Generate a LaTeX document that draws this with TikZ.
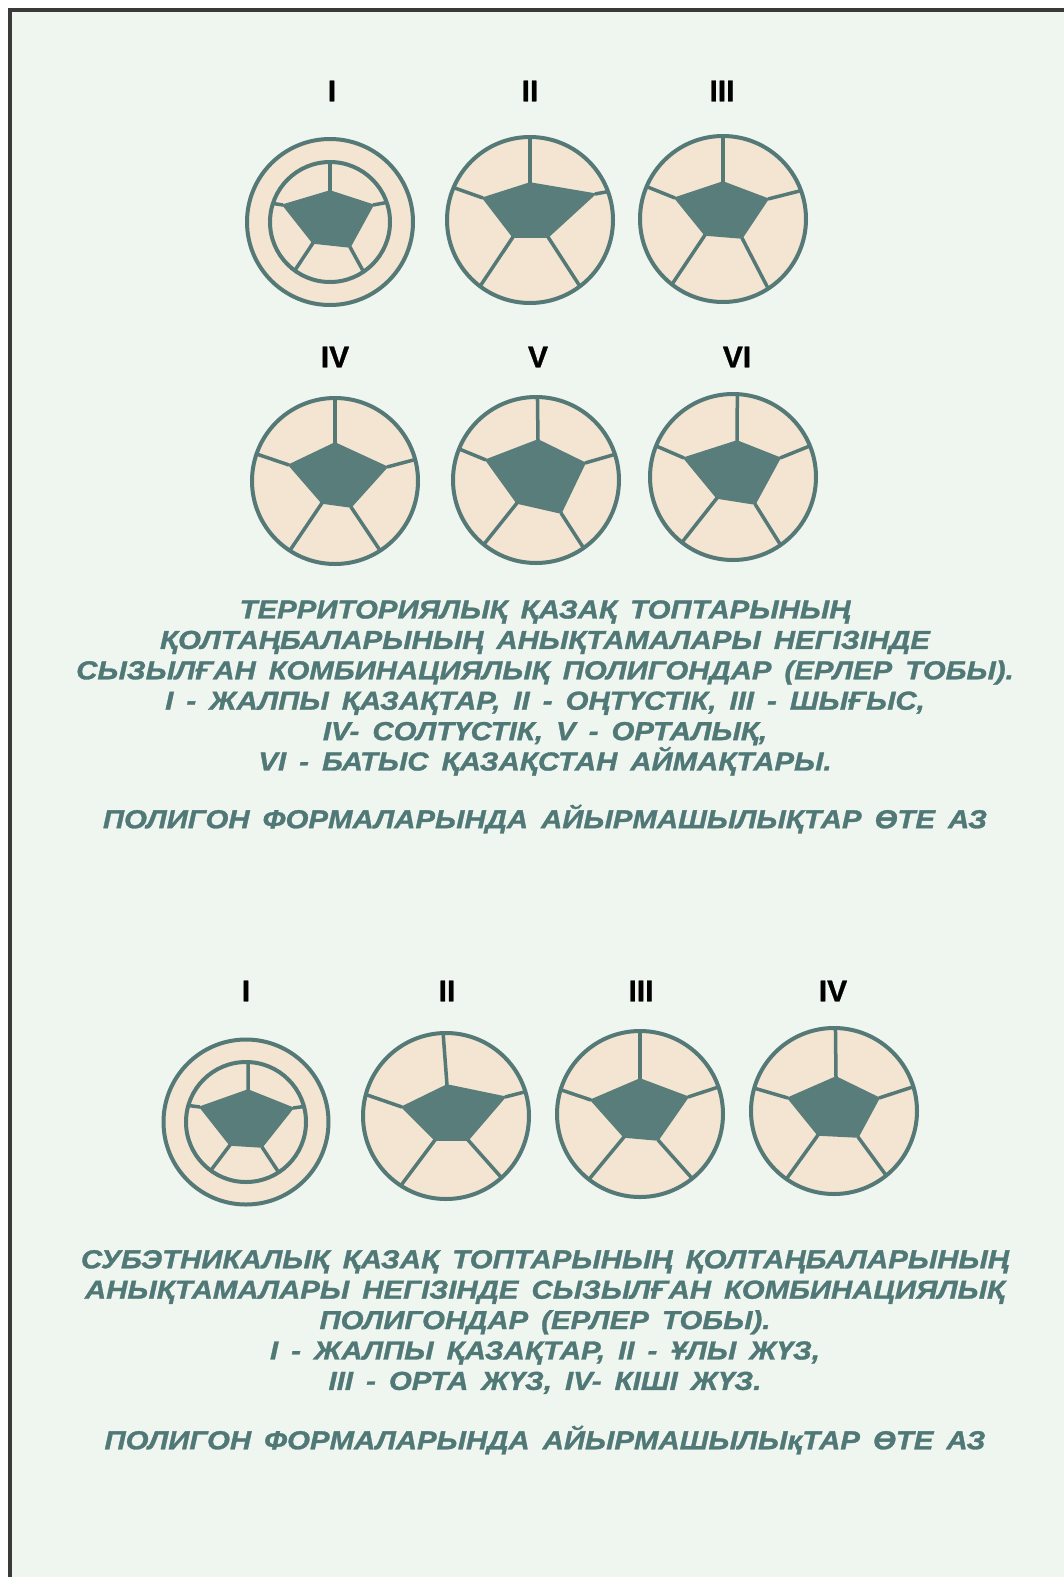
\documentclass[tikz,border=0pt]{standalone}
\usepackage{fontspec}
\setmainfont{Liberation Sans}
\newfontfamily\capfont[FakeStretch=1.13,WordSpace=1.6,FakeBold=1.2]{Liberation Sans}
\newfontfamily\numfont[FakeBold=1]{Liberation Sans}
\definecolor{bgmint}{HTML}{EFF5EF}
\definecolor{discbeige}{HTML}{F3E5D1}
\definecolor{tealline}{HTML}{547977}
\definecolor{tealfill}{HTML}{587D7B}
\definecolor{tealtext}{HTML}{4F7876}
\definecolor{frameline}{HTML}{3A3A3A}
\tikzset{
  discnode/.style={circle,draw=tealline,fill=discbeige,line width=4,inner sep=0},
  polyfill/.style={fill=tealfill,draw=tealfill,line width=1.5,line join=round},
  spoke/.style={draw=tealline,line width=3.5},
  numlabel/.style={font=\numfont\bfseries\fontsize{30}{30}\selectfont,text=black,inner sep=0},
  captext/.style={font=\capfont\bfseries\itshape\fontsize{26}{30.4}\selectfont,text=tealtext,align=center,inner sep=0}
}
% #1 name, #2 center, #3 rim radius, #4..#8 vertex x/y/spoke angle
\newcommand\kzdisc[8]{%
  \begin{scope}[shift={#2}]
    \node[discnode,minimum size=2*#3] (#1) at (0,0) {};
    \foreach \vx/\vy/\va [count=\vi] in {#4,#5,#6,#7,#8} {
      \coordinate (#1v\vi) at (\vx,\vy);
      \coordinate (#1e\vi) at (-\va:#3);
    }
    \fill[polyfill] (#1v1)--(#1v2)--(#1v3)--(#1v4)--(#1v5)--cycle;
    \foreach \vi in {1,...,5} \draw[spoke] (#1v\vi) -- (#1e\vi);
  \end{scope}}
\begin{document}
\begin{tikzpicture}[x=1pt,y=-1pt]
\useasboundingbox (0,0) rectangle (1064,1577);
\fill[white] (0,0) rectangle (1064,1577);
\fill[bgmint] (10,10) rectangle (1064,1577);
\draw[frameline,line width=4] (10,1577) -- (10,10) -- (1064,10);

% top row labels
\node[numlabel] (lt1) at (332,91) {I};
\node[numlabel] (lt2) at (530,91) {II};
\node[numlabel] (lt3) at (722,91) {III};
% top row discs
\node[discnode,minimum size=166] (t1out) at (330,222) {};
\kzdisc{t1}{(330,222)}{60}{0/-31/90}{43/-17/19}{20/25/-56}{-17/21/-126}{-47/-17/162}
\kzdisc{t2}{(530,220)}{83}{0/-37/90}{65/-26/20}{18/17/-53}{-17/17/-127}{-47/-22/157}
\kzdisc{t3}{(723,219)}{83}{0/-37/90}{45/-20/20}{19/19/-57}{-18/16/-128}{-48/-21/157}

% middle row labels
\node[numlabel] (lm1) at (335,357) {IV};
\node[numlabel] (lm2) at (538,357) {V};
\node[numlabel] (lm3) at (737,357) {VI};
\kzdisc{m1}{(335,481)}{83}{0/-38/90}{52/-14/15}{16/26/-57}{-13/22/-123}{-46/-16/161}
\kzdisc{m2}{(536,480)}{83}{2/-40/89}{49/-17/18}{25/33/-55}{-19/23/-129}{-50/-20/158}
\kzdisc{m3}{(733,477)}{83}{4/-36/87}{47/-19/22}{22/27/-55}{-16/21/-128}{-49/-19/158}

\node[captext] (cap1) at (545,688) {ТЕРРИТОРИЯЛЫҚ ҚАЗАҚ ТОПТАРЫНЫҢ\\
ҚОЛТАҢБАЛАРЫНЫҢ АНЫҚТАМАЛАРЫ НЕГІЗІНДЕ\\
СЫЗЫЛҒАН КОМБИНАЦИЯЛЫҚ ПОЛИГОНДАР (ЕРЛЕР ТОБЫ).\\
I - ЖАЛПЫ ҚАЗАҚТАР, II - ОҢТҮСТІК, III - ШЫҒЫС,\\
IV- СОЛТҮСТІК, V - ОРТАЛЫҚ,\\
VI - БАТЫС ҚАЗАҚСТАН АЙМАҚТАРЫ.};
\node[captext] (note1) at (545,819) {ПОЛИГОН ФОРМАЛАРЫНДА АЙЫРМАШЫЛЫҚТАР ӨТЕ АЗ};

% bottom row
\node[numlabel] (lb1) at (246,991) {I};
\node[numlabel] (lb2) at (447,991) {II};
\node[numlabel] (lb3) at (641,991) {III};
\node[numlabel] (lb4) at (833,991) {IV};
\node[discnode,minimum size=165] (b1out) at (246,1122) {};
\kzdisc{b1}{(246,1122)}{60}{2/-32/88}{47/-14/15}{16/25/-57}{-16/23/-126}{-46/-15/164}
\kzdisc{b2}{(446,1116)}{83}{1/-31/92}{59/-19/17}{22/24/-48}{-11/24/-123}{-44/-9/165}
\kzdisc{b3}{(640,1114)}{83}{0/-35/90}{48/-17/19}{18/26/-51}{-16/23/-128}{-49/-14/163}
\kzdisc{b4}{(834,1111)}{83}{2/-34/89}{45/-13/17}{24/26/-51}{-16/24/-125}{-46/-13/164}

\node[captext] (cap2) at (545,1322) {СУБЭТНИКАЛЫҚ ҚАЗАҚ ТОПТАРЫНЫҢ ҚОЛТАҢБАЛАРЫНЫҢ\\
АНЫҚТАМАЛАРЫ НЕГІЗІНДЕ СЫЗЫЛҒАН КОМБИНАЦИЯЛЫҚ\\
ПОЛИГОНДАР (ЕРЛЕР ТОБЫ).\\
I - ЖАЛПЫ ҚАЗАҚТАР, II - ҰЛЫ ЖҮЗ,\\
III - ОРТА ЖҮЗ, IV- КІШІ ЖҮЗ.};
\node[captext] (note2) at (545,1440) {ПОЛИГОН ФОРМАЛАРЫНДА АЙЫРМАШЫЛЫқТАР ӨТЕ АЗ};
\end{tikzpicture}
\end{document}
